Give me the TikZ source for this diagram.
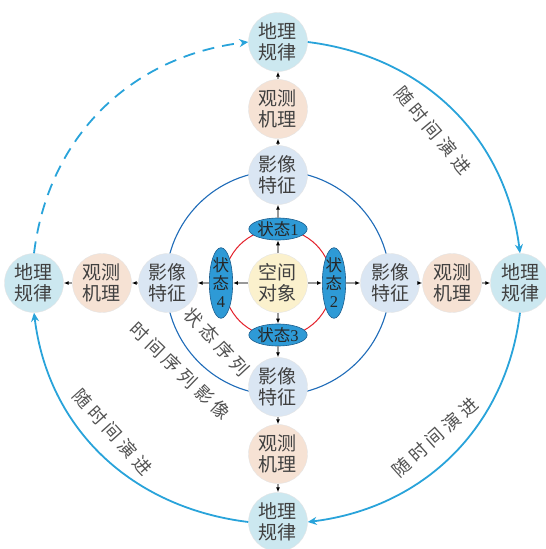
\documentclass[tikz,border=0pt]{standalone}
\usepackage{fontspec}
\setmainfont{Liberation Serif}
\newfontfamily\cjk{Noto Sans CJK SC}
\newfontfamily\cjkweit[LetterSpace=25]{Noto Sans CJK SC}
\usetikzlibrary{arrows.meta,shapes.geometric}

\definecolor{geofill}{HTML}{CCE8F0}
\definecolor{obsfill}{HTML}{F6E2D4}
\definecolor{imgfill}{HTML}{DAE6F3}
\definecolor{objfill}{HTML}{FBF1CD}
\definecolor{zustfill}{HTML}{2E9AD6}
\definecolor{zustrand}{HTML}{1B5C8C}
\definecolor{rotkreis}{HTML}{E3202A}
\definecolor{blaukreis}{HTML}{1E6BB8}
\definecolor{zeitblau}{HTML}{29A3DA}

\begin{document}
\begin{tikzpicture}[x=1pt,y=1pt,
  kreis/.style={circle,minimum size=59pt,inner sep=0pt,draw=black!10,
    text=black!75,align=center,font=\cjk\fontsize{19}{21}\selectfont},
  zust/.style={ellipse,inner sep=0pt,fill=zustfill,draw=zustrand,line width=0.6pt,
    text=black!85,align=center,font=\cjk\fontsize{16.5}{18}\selectfont},
  zusth/.style={zust,minimum width=58pt,minimum height=22pt},
  zustv/.style={zust,minimum width=23pt,minimum height=58pt},
  pfeil/.style={draw=black!40,line width=1.1pt,-{Latex[length=5pt,width=4pt,color=black]}},
  zeitpfeil/.style={draw=zeitblau,line width=1.8pt,-{Stealth[length=9pt,width=8pt]}},
  beschr/.style={text=black!68,inner sep=0pt,font=\cjkweit\fontsize{18}{20}\selectfont}]
\useasboundingbox (-278,-266) rectangle (268,283);

%Mitte
\node[kreis,fill=objfill] (obj) at (0,0) {空间\\对象};

%Kreise
\draw[rotkreis,line width=1pt] (obj) circle [radius=54];
\draw[blaukreis,line width=1.1pt] (obj) circle [radius=112];

%Zustaende
\node[zusth] (z1) at (0,54) {状态\textrm{1}};
\node[zustv] (z2) at (56,0) {状\\态\\\textrm{2}};
\node[zusth] (z3) at (0,-52) {状态\textrm{3}};
\node[zustv] (z4) at (-57,0) {状\\态\\\textrm{4}};

%oben
\node[kreis,fill=imgfill] (imgT) at (0,108) {影像\\特征};
\node[kreis,fill=obsfill] (obsT) at (0,174) {观测\\机理};
\node[kreis,fill=geofill] (geoT) at (0,241) {地理\\规律};
%rechts
\node[kreis,fill=imgfill] (imgR) at (112,0) {影像\\特征};
\node[kreis,fill=obsfill] (obsR) at (174,0) {观测\\机理};
\node[kreis,fill=geofill] (geoR) at (242,0) {地理\\规律};
%unten
\node[kreis,fill=imgfill] (imgB) at (0,-104) {影像\\特征};
\node[kreis,fill=obsfill] (obsB) at (0,-171) {观测\\机理};
\node[kreis,fill=geofill] (geoB) at (0,-239) {地理\\规律};
%links
\node[kreis,fill=imgfill] (imgL) at (-110,0) {影像\\特征};
\node[kreis,fill=obsfill] (obsL) at (-176,0) {观测\\机理};
\node[kreis,fill=geofill] (geoL) at (-244,0) {地理\\规律};

%Pfeile nach aussen
\draw[pfeil] (obj) -- (z1);
\draw[pfeil] (z1) -- (imgT);
\draw[pfeil] (imgT) -- (obsT);
\draw[pfeil] (obsT) -- (geoT);
\draw[pfeil] (obj) -- (z2);
\draw[pfeil] (z2) -- (imgR);
\draw[pfeil] (imgR) -- (obsR);
\draw[pfeil] (obsR) -- (geoR);
\draw[pfeil] (obj) -- (z3);
\draw[pfeil] (z3) -- (imgB);
\draw[pfeil] (imgB) -- (obsB);
\draw[pfeil] (obsB) -- (geoB);
\draw[pfeil] (obj) -- (z4);
\draw[pfeil] (z4) -- (imgL);
\draw[pfeil] (imgL) -- (obsL);
\draw[pfeil] (obsL) -- (geoL);

%Zeitboegen
\draw[zeitpfeil] (geoT.east) to[out=-7,in=97] (geoR.north);
\draw[zeitpfeil] (geoR.south) to[out=-97,in=7] (geoB.east);
\draw[zeitpfeil] (geoB.west) to[out=173,in=-83] (geoL.south);
\draw[zeitpfeil,dash pattern=on 12pt off 8pt] (geoL.north) to[out=83,in=-173] (geoT.west);

%Beschriftung
\node[beschr,rotate=-50] (lblTR) at (155,153) {随时间演进};
\node[beschr,rotate=42] (lblBR) at (157,-154) {随时间演进};
\node[beschr,rotate=-48] (lblBL) at (-165,-149) {随时间演进};
\node[beschr,rotate=-47] (lblSeq) at (-61,-59) {状态序列};
\node[beschr,rotate=-44] (lblImg) at (-98,-88) {时间序列影像};
\end{tikzpicture}
\end{document}
